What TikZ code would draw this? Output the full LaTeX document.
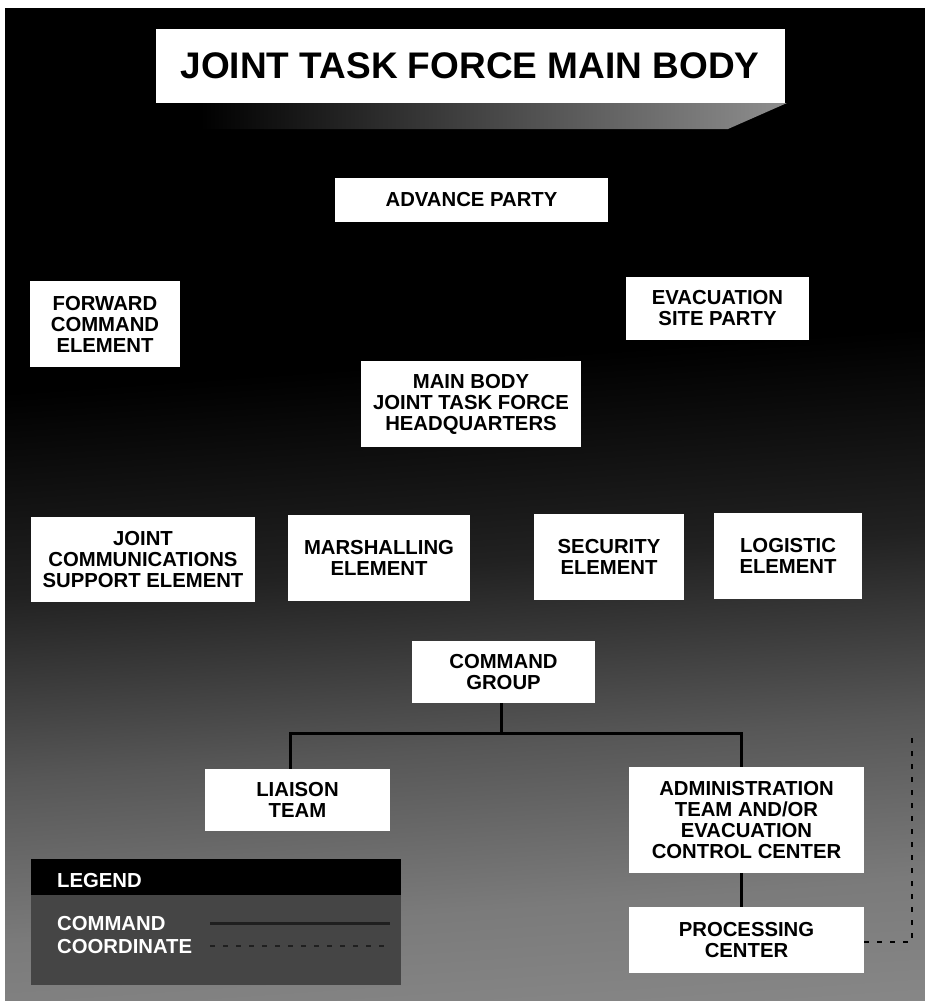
\documentclass[tikz,border=0pt]{standalone}
\usepackage{fontspec}
\setmainfont{Liberation Sans}
\definecolor{g0}{gray}{0.62}
\definecolor{g1}{gray}{0.56}
\definecolor{g2}{gray}{0.48}
\definecolor{g3}{gray}{0.34}
\definecolor{g4}{gray}{0.13}
\definecolor{legbody}{gray}{0.27}
\definecolor{legline}{gray}{0.12}
\pgfdeclareverticalshading{bgsh}{100bp}{color(0bp)=(g0); color(20bp)=(g1); color(30bp)=(g2); color(38bp)=(g3); color(47bp)=(g4); color(57bp)=(black); color(100bp)=(black)}
\tikzset{
  box/.style={fill=white, inner sep=0pt, align=center, font=\bfseries\fontsize{20.3}{21}\selectfont},
  cmdline/.style={line width=3pt, black},
  coordline/.style={line width=2.5pt, black, dash pattern=on 5pt off 8pt},
  legtext/.style={anchor=base west, inner sep=0pt, text=white, font=\bfseries\fontsize{20.3}{21}\selectfont}
}
\begin{document}
\begin{tikzpicture}[x=1pt,y=-1pt]
\useasboundingbox (0,0) rectangle (924,1001);
\shade[shading=bgsh, shading angle=4] (-10,-10) rectangle (940,1015);
\fill[white] (-10,-10) rectangle (940,8);
\fill[white] (-10,-10) rectangle (5,1015);
% title shadow
\shade[left color=black, right color=g1] (200,103) -- (787,103) -- (728,129) -- (200,129) -- cycle;
\node[box, minimum width=629pt, minimum height=74pt, font=\bfseries\fontsize{37}{40}\selectfont] (title) at (470,66) {JOINT TASK FORCE MAIN BODY};
\node[box, minimum width=273pt, minimum height=44pt] (adv) at (471.5,200) {ADVANCE PARTY};
\node[box, minimum width=150pt, minimum height=86pt] (fwd) at (105,324) {FORWARD\\COMMAND\\ELEMENT};
\node[box, minimum width=183pt, minimum height=63pt] (evac) at (717.5,308.5) {EVACUATION\\SITE PARTY};
\node[box, minimum width=220pt, minimum height=86pt] (main) at (471,404) {MAIN BODY\\JOINT TASK FORCE\\HEADQUARTERS};
\node[box, minimum width=224pt, minimum height=85pt] (jcse) at (143,559.5) {JOINT\\COMMUNICATIONS\\SUPPORT ELEMENT};
\node[box, minimum width=182pt, minimum height=86pt] (marsh) at (379,558) {MARSHALLING\\ELEMENT};
\node[box, minimum width=150pt, minimum height=86pt] (sec) at (609,557) {SECURITY\\ELEMENT};
\node[box, minimum width=148pt, minimum height=86pt] (log) at (788,556) {LOGISTIC\\ELEMENT};
\node[box, minimum width=183pt, minimum height=62pt] (cmd) at (503.5,672) {COMMAND\\GROUP};
\node[box, minimum width=185pt, minimum height=62pt] (liaison) at (297.5,800) {LIAISON\\TEAM};
\node[box, minimum width=235pt, minimum height=106pt] (admin) at (746.5,820) {ADMINISTRATION\\TEAM AND/OR\\EVACUATION\\CONTROL CENTER};
\node[box, minimum width=235pt, minimum height=66pt] (proc) at (746.5,940) {PROCESSING\\CENTER};
% connectors
\draw[cmdline] ([xshift=-2.5pt]cmd.south) -- ++(0,30) coordinate (bus);
\draw[cmdline] ([xshift=-7.5pt]liaison.north) |- (bus) -| ([xshift=-5.5pt]admin.north);
\draw[cmdline] ([xshift=-5.5pt]admin.south) -- ([xshift=-5.5pt]proc.north);
\coordinate (ctop) at (912,732);
\draw[coordline] ([yshift=-2pt]proc.east) -| (ctop);
% legend
\node[fill=legbody, inner sep=0pt, minimum width=370pt, minimum height=90pt, anchor=north west] (legbox) at (31,895) {};
\node[fill=black, inner sep=0pt, minimum width=370pt, minimum height=36pt, anchor=north west] (leghead) at (31,859) {};
\node[legtext] (legt) at (57,887) {LEGEND};
\node[legtext] (legc) at (57,930) {COMMAND};
\node[legtext] (legd) at (57,953) {COORDINATE};
\coordinate (lc1) at (210,923);
\coordinate (lc2) at (390,923);
\coordinate (ld1) at (210,946);
\coordinate (ld2) at (390,946);
\draw[cmdline, legline] (lc1) -- (lc2);
\draw[coordline, legline] (ld1) -- (ld2);
\end{tikzpicture}
\end{document}
